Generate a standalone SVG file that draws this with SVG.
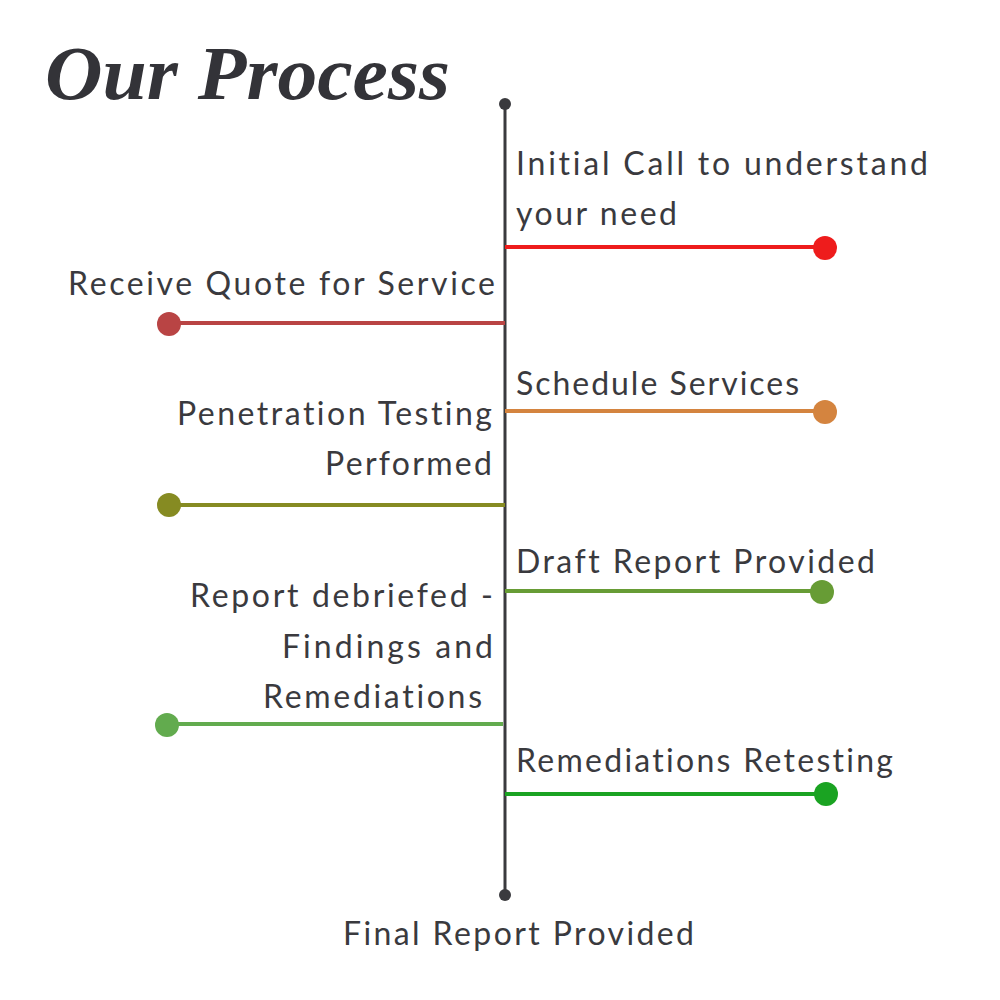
<svg xmlns="http://www.w3.org/2000/svg" width="1000" height="1000" viewBox="0 0 1000 1000">
<style>
.t{font-family:Lato,"Open Sans",sans-serif;font-size:32px;fill:#3a3a3e;font-variant-ligatures:none;}
.title{font-family:"Liberation Serif",serif;font-style:italic;font-weight:bold;font-size:76px;fill:#333338;}
.ln{stroke-width:4;fill:none;}
</style>
<rect width="1000" height="1000" fill="#ffffff"/>
<text class="title" x="45" y="99" textLength="405" lengthAdjust="spacingAndGlyphs">Our Process</text>
<g id="connectors">
<line x1="505" y1="104" x2="505" y2="895" stroke="#3a3a3e" stroke-width="3"/>
<circle cx="505" cy="104" r="6" fill="#3a3a3e"/>
<circle cx="505" cy="895" r="6" fill="#3a3a3e"/>
</g>
<g id="step1">
<line class="ln" x1="505" y1="247" x2="825" y2="247" stroke="#ee1c1c"/>
<circle cx="825" cy="248" r="12" fill="#ee1c1c"/>
<text class="t" x="516" y="175" textLength="412" lengthAdjust="spacing">Initial Call to understand</text>
<text class="t" x="516" y="225" textLength="161" lengthAdjust="spacing">your need</text>
</g>
<g id="step2">
<line class="ln" x1="169" y1="323" x2="505" y2="323" stroke="#b94444"/>
<circle cx="169" cy="324" r="12" fill="#b94444"/>
<text class="t" x="68" y="295" textLength="427" lengthAdjust="spacing">Receive Quote for Service</text>
</g>
<g id="step3">
<line class="ln" x1="505" y1="411" x2="825" y2="411" stroke="#d4843f"/>
<circle cx="825" cy="412" r="12" fill="#d4843f"/>
<text class="t" x="516" y="395" textLength="283" lengthAdjust="spacing">Schedule Services</text>
</g>
<g id="step4">
<line class="ln" x1="169" y1="505" x2="505" y2="505" stroke="#868b22"/>
<circle cx="169" cy="505" r="12" fill="#868b22"/>
<text class="t" x="177" y="425" textLength="315" lengthAdjust="spacing">Penetration Testing</text>
<text class="t" x="325" y="475" textLength="167" lengthAdjust="spacing">Performed</text>
</g>
<g id="step5">
<line class="ln" x1="505" y1="591" x2="822" y2="591" stroke="#679c35"/>
<circle cx="822" cy="592" r="12" fill="#679c35"/>
<text class="t" x="516" y="573" textLength="359" lengthAdjust="spacing">Draft Report Provided</text>
</g>
<g id="step6">
<line class="ln" x1="167" y1="724" x2="503" y2="724" stroke="#62ab4e"/>
<circle cx="167" cy="725" r="12" fill="#62ab4e"/>
<text class="t" x="190" y="607" textLength="303" lengthAdjust="spacing">Report debriefed -</text>
<text class="t" x="282" y="658" textLength="211" lengthAdjust="spacing">Findings and</text>
<text class="t" x="263" y="708" textLength="219" lengthAdjust="spacing">Remediations</text>
</g>
<g id="step7">
<line class="ln" x1="505" y1="794" x2="826" y2="794" stroke="#1aa322"/>
<circle cx="826" cy="794" r="12" fill="#1aa322"/>
<text class="t" x="516" y="772" textLength="377" lengthAdjust="spacing">Remediations Retesting</text>
</g>
<g id="step8">
<text class="t" x="343" y="945" textLength="351" lengthAdjust="spacing">Final Report Provided</text>
</g>
</svg>
